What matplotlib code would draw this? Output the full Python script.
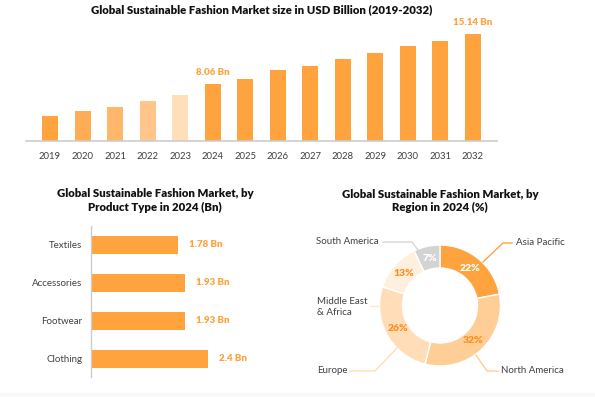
import matplotlib.pyplot as plt
from matplotlib.patches import Rectangle

plt.rcParams['font.family'] = ['Lato', 'DejaVu Sans']

# market size by year (USD Bn)
years = ['2019', '2020', '2021', '2022', '2023', '2024', '2025',
         '2026', '2027', '2028', '2029', '2030', '2031', '2032']
market_size = [3.57, 4.28, 4.84, 5.69, 6.54, 8.06, 8.80,
               10.06, 10.63, 11.62, 12.46, 13.45, 14.16, 15.14]
bar_labels = {5: '8.06 Bn', 13: '15.14 Bn'}

# product type 2024 (Bn)
products = ['Textiles', 'Accessories', 'Footwear', 'Clothing']
product_values = [1.78, 1.93, 1.93, 2.4]
product_labels = ['1.78 Bn', '1.93 Bn', '1.93 Bn', '2.4 Bn']

# region share 2024 (%)
regions = ['Asia Pacific', 'North America', 'Europe',
           'Middle East\n& Africa', 'South America']
region_share = [22, 32, 26, 13, 7]

ORANGE = '#FFA33F'
DARK_ORANGE = '#FF8E1F'
TEXT = '#404040'
GRID = '#CCCCCC'
HEAVY = 'heavy'

W, H = 595, 397


def px_axes(fig, left, top, right, bottom):
    return fig.add_axes([left / W, 1 - bottom / H, (right - left) / W, (bottom - top) / H])


def main():
    fig = plt.figure(figsize=(W / 100, H / 100), dpi=100)
    fig.patches.append(Rectangle((0, 0), 1, 4 / H, transform=fig.transFigure,
                                 color='#F9F9F9', zorder=0))

    # ---- top: yearly market size ----
    ax = px_axes(fig, 26, 20, 497, 141)
    bar_colors = [ORANGE, '#FFAD55', '#FFB86B', '#FFC58A', '#FFDFBA'] + [ORANGE] * 9
    x = range(len(years))
    ax.bar(x, market_size, width=0.49, color=bar_colors)
    for i, lab in bar_labels.items():
        ax.annotate(lab, (i, market_size[i]), xytext=(0, 8), textcoords='offset points',
                    ha='center', va='center', color=ORANGE, fontsize=7, fontweight=HEAVY)
    ax.set_xlim(-0.74, 13.75)
    ax.set_ylim(0, 17.1)
    ax.set_xticks(list(x))
    ax.set_xticklabels(years, fontsize=6.8, color=TEXT)
    ax.tick_params(axis='x', length=0, pad=8)
    ax.set_yticks([])
    for s in ['top', 'right', 'left']:
        ax.spines[s].set_visible(False)
    ax.spines['bottom'].set_color(GRID)
    ax.spines['bottom'].set_linewidth(1.2)
    fig.text(261.5 / W, 1 - 9.5 / H, 'Global Sustainable Fashion Market size in USD Billion (2019-2032)',
             ha='center', va='center', fontsize=8.2, fontweight=HEAVY, color='#111111')

    # ---- bottom left: product type ----
    ax2 = px_axes(fig, 91.3, 226, 280, 377)
    y = range(len(products))
    ax2.barh(y, product_values, height=0.465, color=ORANGE)
    for i, v in enumerate(product_values):
        ax2.annotate(product_labels[i], (v, i), xytext=(7.5, 0), textcoords='offset points',
                     ha='left', va='center', color=ORANGE, fontsize=7, fontweight=HEAVY)
    ax2.set_xlim(0, 3.87)
    ax2.set_ylim(3.48, -0.5)
    ax2.set_yticks(list(y))
    ax2.set_yticklabels(products, fontsize=7, color=TEXT)
    ax2.tick_params(axis='y', length=0, pad=6.5)
    ax2.set_xticks([])
    for s in ['top', 'right', 'bottom']:
        ax2.spines[s].set_visible(False)
    ax2.spines['left'].set_color(GRID)
    ax2.spines['left'].set_linewidth(1.0)
    fig.text(155 / W, 1 - 200.5 / H, 'Global Sustainable Fashion Market, by\nProduct Type in 2024 (Bn)',
             ha='center', va='center', fontsize=8.2, fontweight=HEAVY, color='#111111',
             linespacing=1.3)

    # ---- bottom right: region donut ----
    cx, cy, r = 440, 305.5, 60.5
    ax3 = px_axes(fig, cx - 120, cy - 120, cx + 120, cy + 120)
    lim = 120 / r
    wedge_colors = [ORANGE, '#FFCD96', '#FFDDB8', '#FFEFDD', '#D3D3D3']
    wedges, _, autotexts = ax3.pie(region_share, colors=wedge_colors, startangle=90,
                                   counterclock=False, radius=1,
                                   autopct=lambda p: f'{p:.0f}%', pctdistance=0.79,
                                   wedgeprops=dict(width=0.38, edgecolor='white', linewidth=1))
    pct_colors = ['white', DARK_ORANGE, DARK_ORANGE, DARK_ORANGE, 'white']
    for t, c in zip(autotexts, pct_colors):
        t.set_color(c)
        t.set_fontsize(7.5)
        t.set_fontweight(HEAVY)
    ax3.set_xlim(-lim, lim)
    ax3.set_ylim(-lim, lim)
    ax3.set_aspect('equal')
    ax3.axis('off')

    def d(px, py):
        return (px - cx) / r, (cy - py) / r

    leaders = [
        ([(483, 262), (503, 243), (512, 243)], (516, 243), 'left', ORANGE),
        ([(476, 355), (487, 371), (498, 371)], (501, 371), 'left', '#FFCD96'),
        ([(397, 348), (375, 371), (350, 371)], (317, 371), 'left', '#FFDDB8'),
        ([(380, 306), (370, 306)], (317, 307), 'left', '#FFE9D2'),
        ([(418, 250), (412, 242), (383, 242)], (379, 242), 'right', '#D6D6D6'),
    ]
    for (pts, tpos, ha, col), name in zip(leaders, regions):
        xs, ys = zip(*[d(*p) for p in pts])
        ax3.plot(xs, ys, color=col, lw=1.0, clip_on=False)
        tx, ty = d(*tpos)
        ax3.text(tx, ty, name, ha=ha, va='center', fontsize=7, color=TEXT,
                 linespacing=1.25, clip_on=False)
    fig.text(440 / W, 1 - 201 / H, 'Global Sustainable Fashion Market, by\nRegion in 2024 (%)',
             ha='center', va='center', fontsize=8.2, fontweight=HEAVY, color='#111111',
             linespacing=1.3)

    fig.savefig('out.png', dpi=100)


if __name__ == "__main__":
    main()
